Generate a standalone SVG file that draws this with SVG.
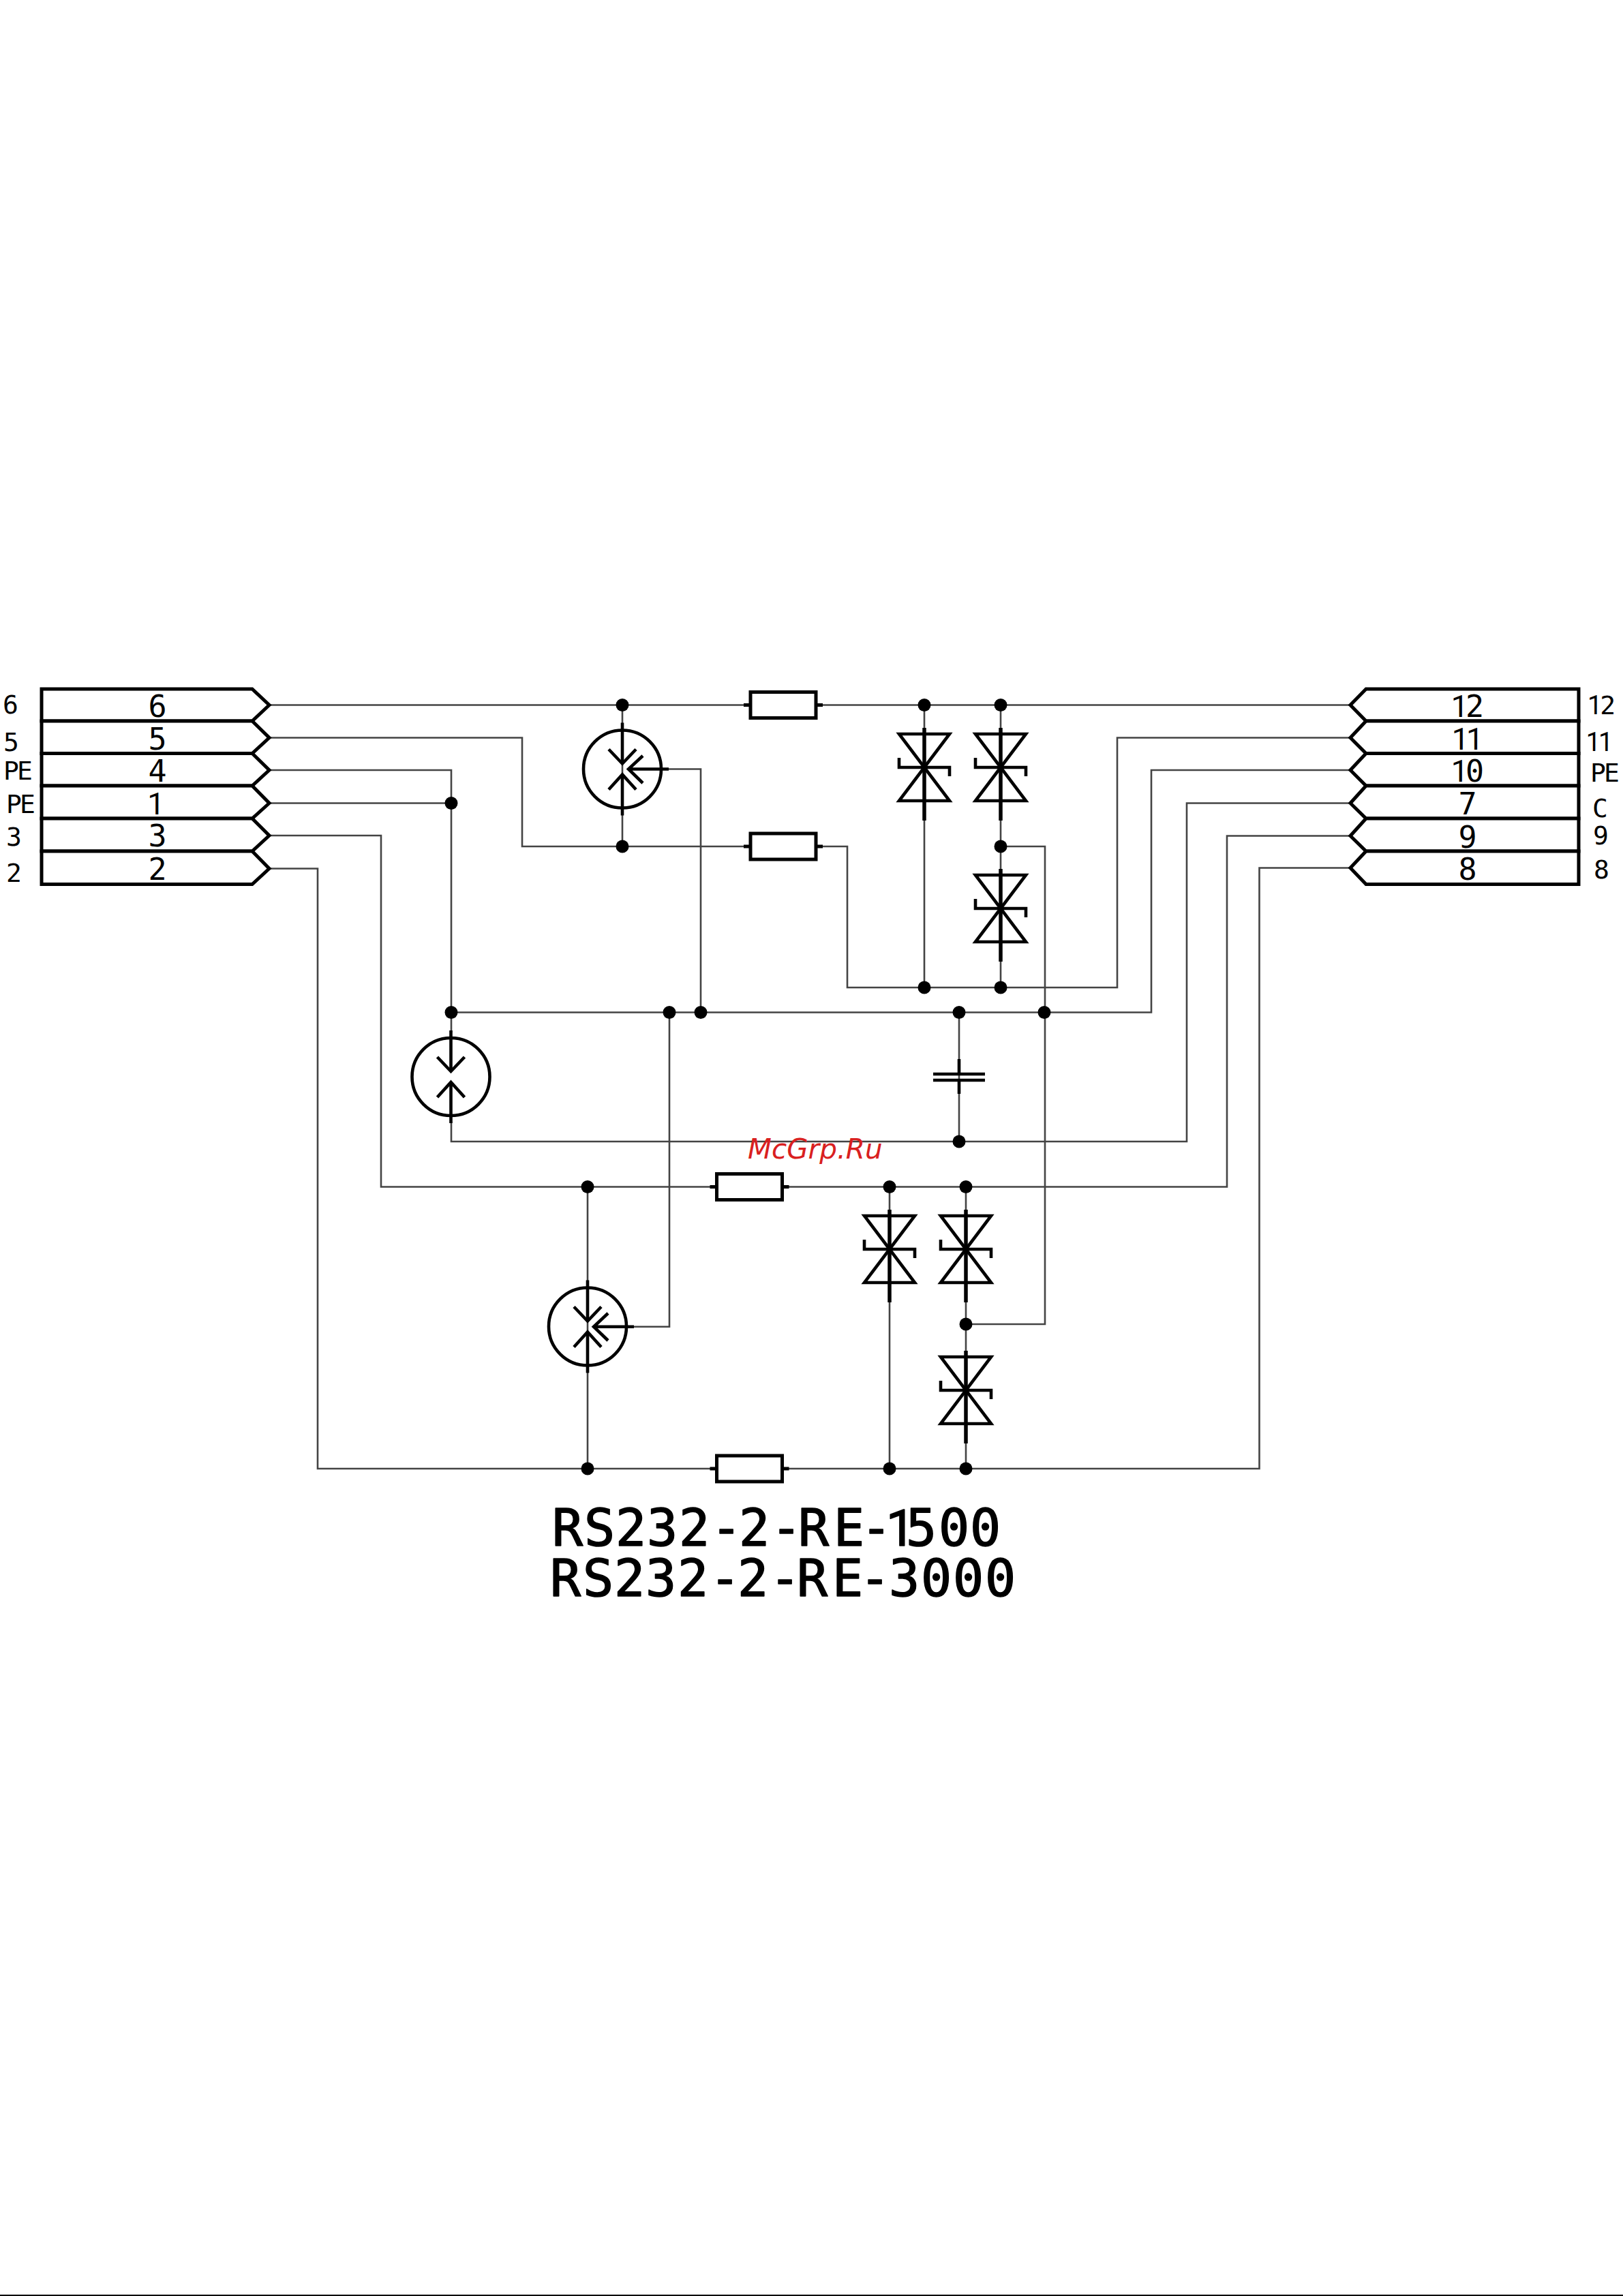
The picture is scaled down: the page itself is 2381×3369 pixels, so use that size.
<svg xmlns="http://www.w3.org/2000/svg" width="2381" height="3369" viewBox="0 0 2381 3369">
<style>
.w{fill:none;stroke:#444;stroke-width:2.6;stroke-linejoin:miter}
.s{fill:none;stroke:#000;stroke-width:4.6;stroke-linejoin:miter}
.st{fill:none;stroke:#000;stroke-width:5}
.b{fill:#fff;stroke:#000;stroke-width:5}
.t{font-family:"DejaVu Sans Mono","Liberation Mono",monospace;fill:#000;text-anchor:middle}
.in{font-size:45px;letter-spacing:-4px}
.out{font-size:38px;letter-spacing:-3px}
.title{font-size:75px;text-anchor:start;stroke:#000;stroke-width:1.6;stroke-linejoin:round}
.ls{font-family:Roboto,"Liberation Sans",sans-serif}
.wm{font-family:"DejaVu Sans","Liberation Sans",sans-serif;font-style:italic;font-size:40.5px;fill:#d92020}
</style>
<defs>
<circle id="dot" r="9.5" fill="#000"/>
<g id="res"><path class="st" d="M-58 0H-48M48 0H58"/><rect class="b" x="-48" y="-19" width="96" height="38"/></g>
<g id="tvs" class="s"><path d="M-37 -49H37L-37 49H37Z"/><path d="M0 -58V78" stroke-width="5.5"/><path d="M-37 -14V0H37V13"/></g>
<g id="gas2" class="s"><circle r="57"/><path d="M0 -68V-8M0 8V68"/><path d="M-20 -29L0 -8L20 -29M-20 30L0 8L20 30"/></g>
</defs>
<rect width="2381" height="3369" fill="#fff"/>
<rect x="0" y="3367" width="2381" height="2" fill="#000"/>
<g id="connectors">
<path class="w" d="M395 1034.5H1091M1207 1034.5H1981"/>
<path class="w" d="M395 1082.5H766V1242H1091"/>
<path class="w" d="M1207 1242H1243V1449H1639V1082.5H1981"/>
<path class="w" d="M395 1130H662V1515"/>
<path class="w" d="M395 1178.5H662"/>
<path class="w" d="M395 1226H559V1741.5H1042M1157 1741.5H1800V1226.5H1981"/>
<path class="w" d="M395 1274.5H466V2155H1042M1157 2155H1847.5V1273.5H1981"/>
<path class="w" d="M662 1485.5H1689V1130H1981"/>
<path class="w" d="M662 1645V1675H1741V1178.5H1981"/>
<path class="w" d="M913 1034.5V1242"/>
<path class="w" d="M930 1946.7H982V1485.5"/>
<path class="w" d="M981 1128.5H1028V1485.5"/>
<path class="w" d="M1356 1034.5V1449"/>
<path class="w" d="M1468 1034.5V1449"/>
<path class="w" d="M1468 1242H1533V1943H1417"/>
<path class="w" d="M862 1741.5V2155"/>
<path class="w" d="M1305 1741.5V2155"/>
<path class="w" d="M1417 1741.5V2155"/>
<path class="w" d="M1407 1485.5V1675"/>
</g>
<g id="junctions">
<use href="#dot" x="913" y="1034.5"/><use href="#dot" x="1356" y="1034.5"/><use href="#dot" x="1468" y="1034.5"/>
<use href="#dot" x="662" y="1178.5"/><use href="#dot" x="913" y="1242"/><use href="#dot" x="1468" y="1242"/>
<use href="#dot" x="1356" y="1449"/><use href="#dot" x="1468" y="1449"/>
<use href="#dot" x="662" y="1485.5"/><use href="#dot" x="982" y="1485.5"/><use href="#dot" x="1028" y="1485.5"/><use href="#dot" x="1407" y="1485.5"/><use href="#dot" x="1532" y="1485.5"/>
<use href="#dot" x="1407" y="1675"/>
<use href="#dot" x="862" y="1741.5"/><use href="#dot" x="1305" y="1741.5"/><use href="#dot" x="1417" y="1741.5"/>
<use href="#dot" x="1417" y="1943"/>
<use href="#dot" x="862" y="2155"/><use href="#dot" x="1305" y="2155"/><use href="#dot" x="1417" y="2155"/>
</g>
<g id="connector-left">
<path class="b" d="M61 1011H370L395 1034.5L370 1058H61Z"/>
<path class="b" d="M61 1058H370L395 1082.5L370 1105.5H61Z"/>
<path class="b" d="M61 1105.5H370L395 1130L370 1153H61Z"/>
<path class="b" d="M61 1153H370L395 1178.5L370 1201H61Z"/>
<path class="b" d="M61 1201H370L395 1226L370 1249H61Z"/>
<path class="b" d="M61 1249H370L395 1274.5L370 1297.5H61Z"/>
<g class="t in">
<text x="229" y="1052">6</text><text x="229" y="1100">5</text><text x="229" y="1147">4</text><text class="ls" x="227" y="1195">1</text><text x="229" y="1242">3</text><text x="229" y="1291">2</text>
</g>
<g class="t out">
<text x="14" y="1047">6</text><text x="15" y="1102">5</text><text x="25" y="1144">PE</text><text x="29" y="1193">PE</text><text x="19" y="1241">3</text><text x="19" y="1294">2</text>
</g>
</g>
<g id="connector-right">
<path class="b" d="M2316 1011H2004L1981 1034.5L2004 1058H2316Z"/>
<path class="b" d="M2316 1058H2004L1981 1082.5L2004 1105.5H2316Z"/>
<path class="b" d="M2316 1105.5H2004L1981 1130L2004 1153H2316Z"/>
<path class="b" d="M2316 1153H2004L1981 1178.5L2004 1201H2316Z"/>
<path class="b" d="M2316 1201H2004L1981 1226.5L2004 1249H2316Z"/>
<path class="b" d="M2316 1249H2004L1981 1273.5L2004 1297.5H2316Z"/>
<g class="t in">
<text x="2151" y="1052"><tspan class="ls">1</tspan>2</text><text class="ls" x="2151" y="1100">11</text><text x="2151" y="1147"><tspan class="ls">1</tspan>0</text><text x="2151" y="1195">7</text><text x="2151" y="1244">9</text><text x="2151" y="1291">8</text>
</g>
<g class="t out">
<text x="2348" y="1048"><tspan class="ls">1</tspan>2</text><text class="ls" x="2345" y="1102">11</text><text x="2353" y="1147">PE</text><text x="2346" y="1199">C</text><text x="2347" y="1239">9</text><text x="2348" y="1289">8</text>
</g>
</g>
<g id="R1"><use href="#res" x="1149" y="1034.5"/></g>
<g id="R2"><use href="#res" x="1149" y="1242"/></g>
<g id="R3"><use href="#res" x="1099.5" y="1741.5"/></g>
<g id="R4"><use href="#res" x="1099.5" y="2155"/></g>
<g id="D1"><use href="#tvs" x="1356" y="1126"/></g>
<g id="D2"><use href="#tvs" x="1468" y="1126"/></g>
<g id="D3"><use href="#tvs" x="1468" y="1333"/></g>
<g id="D4"><use href="#tvs" x="1305" y="1833"/></g>
<g id="D5"><use href="#tvs" x="1417" y="1833"/></g>
<g id="D6"><use href="#tvs" x="1417" y="2040"/></g>
<g id="GDT1"><use href="#gas2" x="913" y="1128.5"/><path class="s" d="M981 1128.5H922M943 1109L922 1128.5L943 1149"/></g>
<g id="GDT2"><use href="#gas2" x="661.5" y="1580"/></g>
<g id="GDT3"><use href="#gas2" x="862" y="1946.5"/><path class="s" d="M930 1946.7H871M892 1927L871 1946.7L892 1967"/></g>
<g id="C1"><path class="s" d="M1407 1554V1576M1407 1585V1605"/><path class="s" d="M1369 1576H1445M1369 1585H1445"/></g>
<g id="title">
<text class="t title" y="2268" x="810 857 903 949 996 1043 1084 1131 1171 1223 1263 1300 1329 1377 1423">RS232-2-RE-<tspan class="ls">1</tspan>500</text>
<text class="t title" y="2342" x="807 855 901 947 994 1041 1082 1129 1169 1221 1261 1304 1351 1398 1445">RS232-2-RE-3000</text>
</g>
<text class="wm" x="1097" y="1700">McGrp.Ru</text>
</svg>
